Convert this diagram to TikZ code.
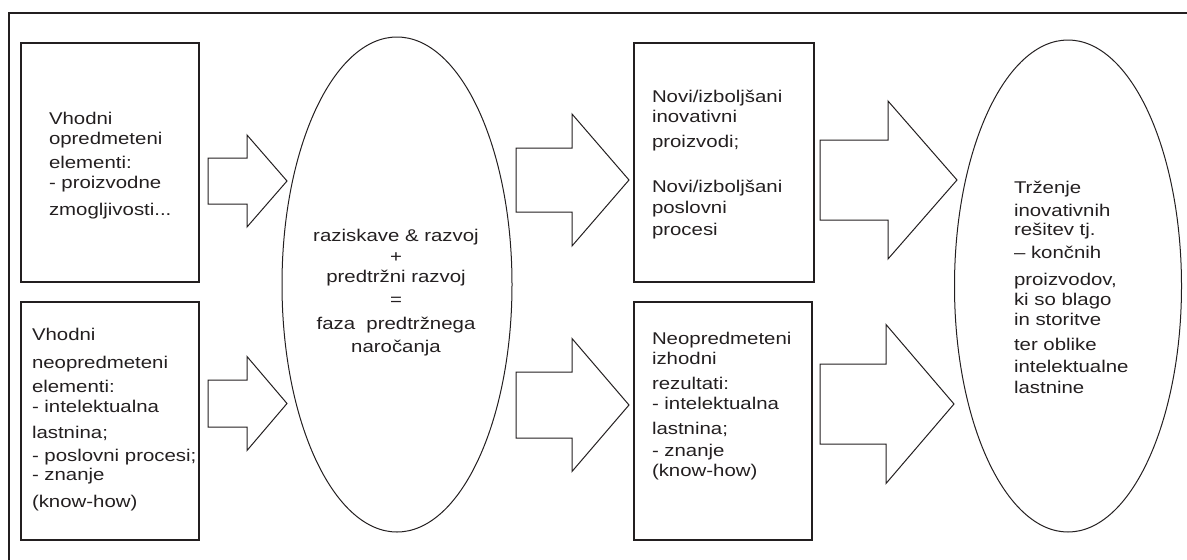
\documentclass[tikz,border=0pt]{standalone}
\usepackage{fontspec}
\setmainfont[FakeStretch=1.2]{Liberation Sans}
\usetikzlibrary{shapes.geometric}
\definecolor{ink}{HTML}{231F20}
% block arrow: #1 name, #2 tail x, #3 head base x, #4 tip x, #5 centre y, #6 shaft half-width, #7 head half-width
\newcommand\flowarrow[7]{%
  \coordinate (#1-tail) at (#2,#5);
  \coordinate (#1-tip) at (#4,#5);
  \draw[flow] (#2,#5-#6) -- (#3,#5-#6) -- (#3,#5-#7) -- (#1-tip)
    -- (#3,#5+#7) -- (#3,#5+#6) -- (#2,#5+#6) -- cycle;}
\begin{document}
\begin{tikzpicture}[x=1pt,y=-1pt,
  every node/.style={inner sep=0pt,outer sep=0pt},
  txt/.style={font=\fontsize{17}{20}\selectfont,text=ink},
  panel/.style={draw=ink,line width=1.1pt,rectangle,anchor=north west},
  phase/.style={draw=ink,line width=1pt,ellipse},
  flow/.style={draw=ink,line width=1pt,line join=miter}]
\useasboundingbox (0,0) rectangle (1187,560);
% outer frame (top and left edges)
\coordinate (frameTL) at (9,13);
\coordinate (frameTR) at (1187,13);
\coordinate (frameBL) at (9,560);
\draw[ink,line width=1.3pt] (frameTR) -- (frameTL) -- (frameBL);

% input boxes
\node[panel,minimum width=178pt,minimum height=239pt] (inTang) at (21,43) {};
\node[panel,minimum width=178pt,minimum height=238pt] (inIntang) at (21,302) {};
% output boxes
\node[panel,minimum width=180pt,minimum height=239pt] (outProd) at (634,43) {};
\node[panel,minimum width=178pt,minimum height=238pt] (outIntang) at (634,302) {};

% phases
\node[phase,minimum width=230pt,minimum height=495pt] (rd) at (397,284.5) {};
\node[phase,minimum width=227pt,minimum height=492pt] (market) at (1068,286) {};

% block arrows between the stages
\flowarrow{a1}{208}{247}{287}{181}{23}{46}
\flowarrow{a2}{208}{247}{287}{403.5}{23.5}{47}
\flowarrow{a3}{516}{572}{629}{180}{32}{66}
\flowarrow{a4}{516}{572}{629}{405}{33}{66.5}
\flowarrow{a5}{820}{888}{957}{180}{40}{79}
\flowarrow{a6}{820}{886}{954}{404}{40}{79.5}

% texts (anchored at the baseline of their last line)
\node[txt,align=left,anchor=base west] (tTang) at (49,215)
  {Vhodni\\opredmeteni\\[4pt]elementi:\\- proizvodne\\[7pt]zmogljivosti...};
\node[txt,align=left,anchor=base west] (tIntang) at (32,507)
  {Vhodni\\[8pt]neopredmeteni\\[4pt]elementi:\\- intelektualna\\[6pt]lastnina;\\[3pt]- poslovni procesi;\\[-1pt]- znanje\\[7pt](know-how)};
\node[txt,align=center,anchor=base] (tRd) at (396,352)
  {raziskave \& razvoj\\[1pt]+\\predtržni razvoj\\[3pt]=\\[4pt]faza~~predtržnega\\[3pt]naročanja};
\node[txt,align=left,anchor=base west] (tProd) at (652,235)
  {Novi/izboljšani\\inovativni\\[5pt]proizvodi;\\[25pt]Novi/izboljšani\\[1pt]poslovni\\[2pt]procesi};
\node[txt,align=left,anchor=base west] (tOut) at (652,476)
  {Neopredmeteni\\izhodni\\[5pt]rezultati:\\- intelektualna\\[5pt]lastnina;\\[2pt]- znanje\\(know-how)};
\node[txt,align=left,anchor=base west] (tMarket) at (1014,393)
  {Trženje\\[3pt]inovativnih\\[-1pt]rešitev tj.\\[3pt]– končnih\\[7pt]proizvodov,\\ki so blago\\in storitve\\[5pt]ter oblike\\[2pt]intelektualne\\[1pt]lastnine};
\end{tikzpicture}
\end{document}
